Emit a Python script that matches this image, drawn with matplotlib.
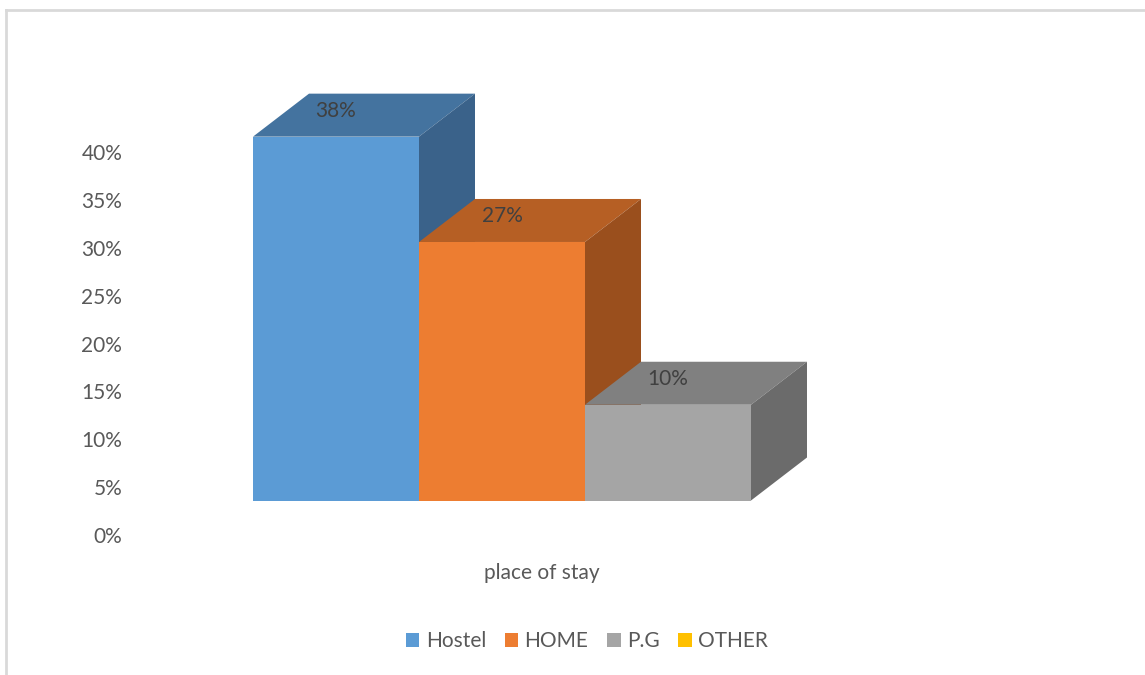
import matplotlib.pyplot as plt
from matplotlib.patches import Patch
from matplotlib.lines import Line2D

plt.rcParams['font.family'] = ['Lato', 'DejaVu Sans']

categories = ['Hostel', 'HOME', 'P.G', 'OTHER']
values = [38, 27, 10, 0]
front_colors = ['#5B9BD5', '#ED7D31', '#A5A5A5', '#FFC000']
top_colors = ['#44739F', '#B65F24', '#808080', '#BF9000']
side_colors = ['#3A628A', '#9A4F1D', '#6B6B6B', '#A07800']
yticks = [0, 5, 10, 15, 20, 25, 30, 35, 40]

W, H = 1145, 675
fig = plt.figure(figsize=(W / 100, H / 100), dpi=100)

# layout in pixels
px_per_pct = 9.575
px_per_bar = 166
y0_px = 535          # pixel row of 0%
x0_px = 253          # pixel column of first bar's left edge
ax_left, ax_right, ax_top = 130, 1000, 60
ax = fig.add_axes([ax_left / W, (H - y0_px) / H,
                   (ax_right - ax_left) / W, (y0_px - ax_top) / H])
ax.set_xlim((ax_left - x0_px) / px_per_bar, (ax_right - x0_px) / px_per_bar)
ax.set_ylim(0, (y0_px - ax_top) / px_per_pct)

base = 34.5 / px_per_pct     # floor offset of the 3D bars
dx = 56 / px_per_bar         # depth offset to the right
dy = 43 / px_per_pct         # depth offset upwards
lab_off = 26 / px_per_pct

for i, (v, fc, tc, sc) in enumerate(zip(values, front_colors, top_colors, side_colors)):
    if v == 0:
        continue
    x = i
    top = base + v
    ax.bar(x, v, width=1, bottom=base, align='edge', color=fc, linewidth=0, zorder=2)
    # top face
    ax.fill([x, x + 1, x + 1 + dx, x + dx], [top, top, top + dy, top + dy],
            color=tc, linewidth=0, zorder=2, clip_on=False)
    # side face
    ax.fill([x + 1, x + 1 + dx, x + 1 + dx, x + 1], [base, base + dy, top + dy, top],
            color=sc, linewidth=0, zorder=2, clip_on=False)
    ax.text(x + 0.5, top + lab_off, f'{v}%', ha='center', va='center',
            fontsize=15, color='#404040', zorder=3)

ax.set_yticks(yticks)
ax.set_yticklabels([f'{t}%' for t in yticks])
ax.tick_params(axis='y', length=0, pad=5.5, labelsize=15, labelcolor='#595959')
ax.set_xticks([])
for s in ax.spines.values():
    s.set_visible(False)

fig.text(542 / W, 1 - 573 / H, 'place of stay', ha='center', va='center',
         fontsize=15, color='#595959')

handles = [Patch(facecolor=c, edgecolor='none') for c in front_colors]
fig.legend(handles, categories, loc='center', bbox_to_anchor=(587 / W, 1 - 641 / H),
           ncol=4, frameon=False, fontsize=15, labelcolor='#595959',
           handlelength=0.65, handleheight=0.65, handletextpad=0.3, columnspacing=0.9)

# chart border (left and top edges visible)
fig.add_artist(Line2D([6 / W, 6 / W], [0, 1 - 10 / H], color='#D9D9D9', lw=2))
fig.add_artist(Line2D([6 / W, 1], [1 - 10 / H, 1 - 10 / H], color='#D9D9D9', lw=2))

fig.savefig('out.png', dpi=100)
